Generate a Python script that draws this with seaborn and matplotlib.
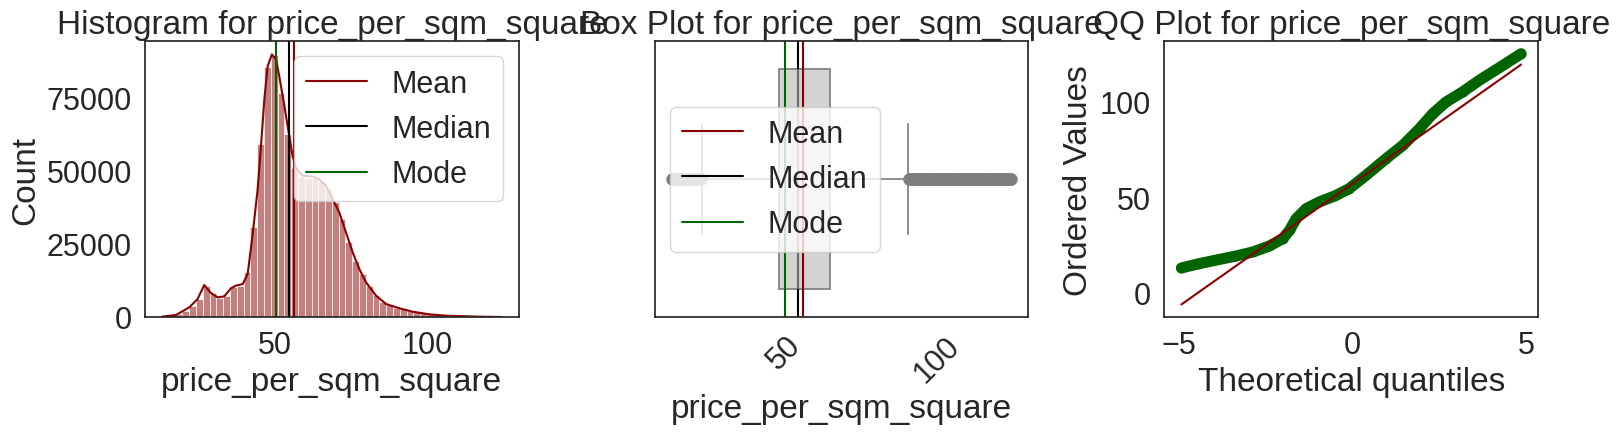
import numpy as np
import matplotlib
matplotlib.use("Agg")
import matplotlib.pyplot as plt
import seaborn as sns

col = "price_per_sqm_square"

# histogram: 50 bins over the data range, counts
bin_lo, bin_hi, n_bins = 12.8, 124.7, 50
counts = [230, 570, 1020, 2160, 3870, 6140, 10460, 8190, 6370, 7280,
          10120, 10690, 15240, 30590, 59010, 85500, 89370, 76630, 62420, 51050,
          47980, 47640, 47640, 46500, 43660, 39110, 33430, 25470, 19220, 14670,
          10690, 7500, 5230, 4090, 3180, 2620, 2050, 1590, 1250, 910,
          680, 570, 450, 340, 230, 230, 110, 110, 60, 60]

# density curve drawn over the histogram (count scale)
kde_x = [12.8, 17.4, 21.8, 24.5, 26.7, 28.9, 31.1, 33.3, 35.5, 37.1,
         39.4, 41.0, 42.6, 44.3, 45.4, 46.5, 47.6, 49.0, 50.3, 51.4,
         53.1, 54.7, 55.8, 56.9, 59.1, 62.4, 64.6, 66.8, 69.0, 71.2,
         73.4, 75.6, 77.8, 80.0, 83.3, 86.6, 91.0, 95.3, 100.8, 106.3,
         117.2, 124.7]
kde_y = [110, 680, 3300, 6140, 10900, 8190, 6710, 7050, 9780, 10690,
         11260, 14670, 27740, 43660, 58440, 74360, 85730, 89710, 88000, 82320,
         72090, 61850, 55030, 51050, 48210, 47980, 47070, 44800, 40250, 35700,
         28880, 22060, 16370, 11820, 7280, 4430, 2960, 1820, 910, 450,
         110, 0]

mean_val, median_val, mode_val = 56.2, 54.6, 50.4

# box plot summary
box_q1, box_med, box_q3 = 48.4, 54.6, 65.1
whis_lo, whis_hi = 23.0, 90.5
fliers_low = [13.2, 13.7, 14.2, 14.7, 15.2, 15.7, 16.2, 16.7, 17.2, 17.7,
              18.2, 18.7, 19.2, 19.7, 20.2, 20.7, 21.2, 21.7, 22.2, 22.7]
fliers_high = [91.0, 91.5, 92.0, 92.5, 93.0, 93.5, 94.0, 94.5, 95.0, 95.5,
               96.0, 96.5, 97.0, 97.5, 98.0, 98.5, 99.0, 99.5, 100.0, 100.5,
               101.0, 101.5, 102.0, 102.5, 103.0, 103.5, 104.0, 104.5, 105.0, 105.5,
               106.0, 106.5, 107.0, 107.5, 108.0, 108.5, 109.0, 109.5, 110.0, 110.5,
               111.0, 111.5, 112.0, 112.5, 113.0, 113.5, 114.0, 114.5, 115.0, 115.5,
               116.0, 116.5, 117.0, 117.5, 118.0, 118.5, 119.0, 119.5, 120.0, 120.5,
               121.0, 121.5, 122.0, 122.5, 123.0, 123.5, 124.0, 124.5]

# QQ plot (theoretical quantile, ordered value) read along the band
qq_x = [-4.92, -4.40, -3.82, -3.34, -2.86, -2.39, -2.00, -1.81, -1.62, -1.33,
        -0.95, -0.47, -0.09, 0.39, 0.97, 1.45, 1.93, 2.31, 2.69, 3.17,
        3.65, 4.20, 4.85]
qq_y = [12.9, 15.2, 17.4, 19.2, 21.3, 24.4, 28.3, 32.6, 38.7, 44.0,
        47.5, 50.9, 54.5, 61.4, 70.2, 77.1, 85.9, 93.7, 99.8, 105.1,
        111.2, 117.5, 125.1]
fit_x = [-4.92, 4.85]
fit_y = [-6.2, 119.4]

sns.set_theme(style="white", font_scale=2)
plt.rcParams['font.family'] = ['Liberation Sans', 'DejaVu Sans']

fig, axes = plt.subplots(1, 3, figsize=(16.19, 4.35), dpi=100)
fig.subplots_adjust(left=0.0896, right=0.95, bottom=0.269, top=0.903, wspace=0.364)

# --- histogram
ax = axes[0]
centers = np.linspace(bin_lo, bin_hi, n_bins + 1)[:-1] + (bin_hi - bin_lo) / n_bins / 2
sns.histplot(x=centers, weights=counts, bins=n_bins, binrange=(bin_lo, bin_hi),
             color="darkred", alpha=0.5, ax=ax)
sns.lineplot(x=kde_x, y=kde_y, color="darkred", lw=1.5, ax=ax)
ax.axvline(mean_val, color="darkred", lw=1.5, label="Mean")
ax.axvline(median_val, color="black", lw=1.5, label="Median")
ax.axvline(mode_val, color="darkgreen", lw=1.5, label="Mode")
ax.set_xticks([50, 100])
ax.set_yticks([0, 25000, 50000, 75000])
ax.set_xlabel(col)
ax.set_ylabel("Count")
ax.set_title(f"Histogram for {col}")
ax.legend(loc="upper right")

# --- box plot
ax = axes[1]
gray = "#7e7e7e"
stats = [dict(q1=box_q1, med=box_med, q3=box_q3, whislo=whis_lo, whishi=whis_hi,
              fliers=np.array(fliers_low + fliers_high))]
ax.bxp(stats, positions=[0], widths=0.8, capwidths=[0.4], orientation="horizontal",
       patch_artist=True,
       boxprops=dict(facecolor="lightgray", edgecolor=gray, lw=1.25),
       whiskerprops=dict(color=gray, lw=1.25),
       capprops=dict(color=gray, lw=1.25),
       medianprops=dict(color=gray, lw=1.25),
       flierprops=dict(marker="o", markerfacecolor="none", markeredgecolor=gray,
                       markersize=7, markeredgewidth=2))
ax.set_ylim(0.5, -0.5)
ax.set_yticks([])
ax.axvline(mean_val, color="darkred", lw=1.5, label="Mean")
ax.axvline(median_val, color="black", lw=1.5, label="Median")
ax.axvline(mode_val, color="darkgreen", lw=1.5, label="Mode")
ax.set_xticks([50, 100])
plt.setp(ax.get_xticklabels(), rotation=45)
ax.set_xlabel(col)
ax.set_title(f"Box Plot for {col}")
ax.legend(loc="center left")

# --- QQ plot
ax = axes[2]
ax.plot(qq_x, qq_y, color="darkgreen", lw=8, solid_capstyle="round")
ax.plot(qq_x, qq_y, "o", color="darkgreen", markersize=6)
ax.plot(fit_x, fit_y, color="darkred", lw=1.5)
ax.set_xticks([-5, 0, 5])
ax.set_yticks([0, 50, 100])
ax.set_xlabel("Theoretical quantiles")
ax.set_ylabel("Ordered Values")
ax.set_title(f"QQ Plot for {col}")

fig.savefig("out.png", dpi=100)
